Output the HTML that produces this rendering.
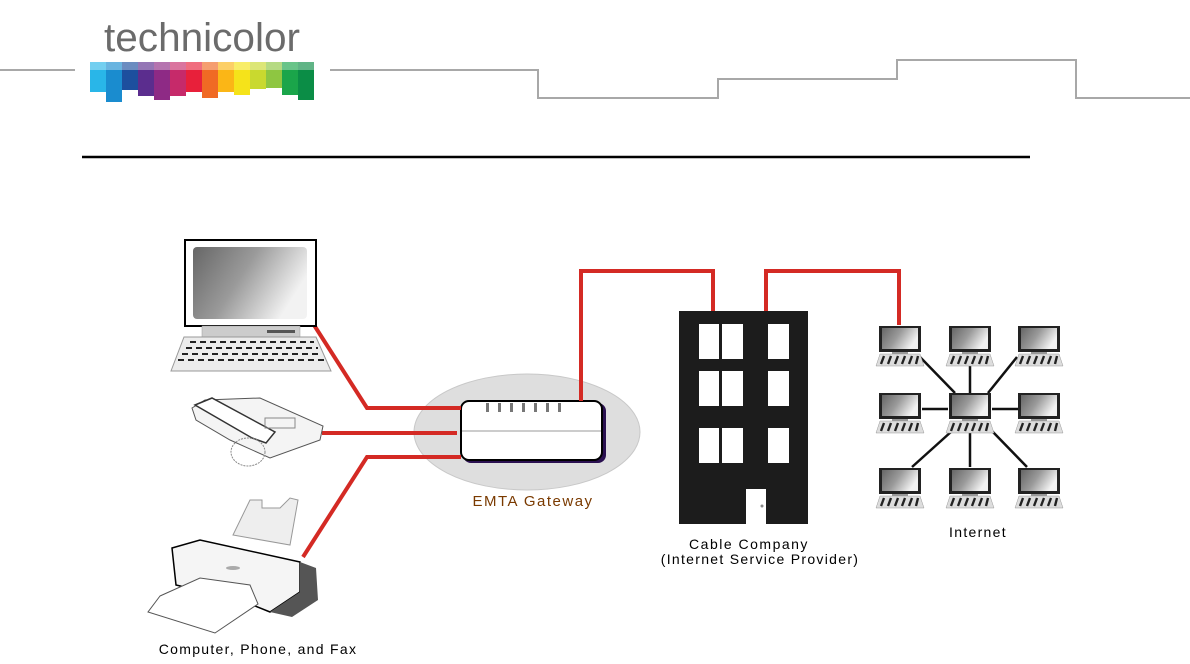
<!DOCTYPE html>
<html><head><meta charset="utf-8"><style>
html,body{margin:0;padding:0;background:#fff;width:1190px;height:664px;overflow:hidden}
svg{display:block}
text{font-family:"Liberation Sans",sans-serif}
</style></head><body>
<svg width="1190" height="664" viewBox="0 0 1190 664" xmlns="http://www.w3.org/2000/svg">
<defs>
<linearGradient id="scr" x1="0" y1="0" x2="1" y2="0.4">
<stop offset="0" stop-color="#666"/><stop offset="0.5" stop-color="#9a9a9a"/><stop offset="1" stop-color="#f2f2f2"/>
</linearGradient>
<g id="pc">
<rect x="1" y="1" width="42" height="26" fill="#222"/>
<rect x="4" y="3" width="36" height="21" fill="url(#scr)"/>
<rect x="14" y="27" width="16" height="2" fill="#999"/>
<polygon points="2,29 42,29 46,41 -2,41" fill="#ddd" stroke="#999" stroke-width="0.5"/>
<g stroke="#222" stroke-width="2.4">
<line x1="6" y1="31" x2="3" y2="39"/><line x1="13" y1="31" x2="10" y2="39"/><line x1="20" y1="31" x2="17" y2="39"/><line x1="27" y1="31" x2="24" y2="39"/><line x1="34" y1="31" x2="31" y2="39"/><line x1="40" y1="31" x2="38" y2="39"/>
</g>
</g>
</defs>

<!-- header lines -->
<polyline points="0,70 75,70" fill="none" stroke="#a8a8a8" stroke-width="2"/>
<polyline points="330,70 538,70 538,98 718,98 718,79 897,79 897,60 1076,60 1076,98 1190,98" fill="none" stroke="#a8a8a8" stroke-width="2"/>
<line x1="82" y1="157" x2="1030" y2="157" stroke="#000" stroke-width="2.5"/>

<!-- logo -->
<text x="104" y="51" font-size="40" fill="#6b6b6b" textLength="196" lengthAdjust="spacingAndGlyphs">technicolor</text>
<g>
<rect x="90" y="62" width="16" height="30" fill="#29b6e8"/>
<rect x="106" y="62" width="16" height="40" fill="#1a8ccf"/>
<rect x="122" y="62" width="16" height="28" fill="#1d4f9e"/>
<rect x="138" y="62" width="16" height="34" fill="#5b2d8e"/>
<rect x="154" y="62" width="16" height="38" fill="#8e2a85"/>
<rect x="170" y="62" width="16" height="34" fill="#c62a6a"/>
<rect x="186" y="62" width="16" height="30" fill="#e8203a"/>
<rect x="202" y="62" width="16" height="36" fill="#f06a24"/>
<rect x="218" y="62" width="16" height="30" fill="#fbb616"/>
<rect x="234" y="62" width="16" height="33" fill="#f5e31a"/>
<rect x="250" y="62" width="16" height="27" fill="#c9d92f"/>
<rect x="266" y="62" width="16" height="26" fill="#8ec641"/>
<rect x="282" y="62" width="16" height="33" fill="#1aa54a"/>
<rect x="298" y="62" width="16" height="38" fill="#0b8d46"/>
<rect x="90" y="62" width="224" height="8" fill="#fff" opacity="0.35"/>
</g>

<!-- gateway -->
<ellipse cx="527" cy="432" rx="113" ry="58" fill="#dedede" stroke="#c8c8c8"/>
<rect x="463" y="403" width="143" height="60" rx="8" fill="#2a1050"/>
<rect x="461" y="401" width="141" height="59" rx="8" fill="#fff" stroke="#000" stroke-width="2"/>
<line x1="462" y1="431" x2="601" y2="431" stroke="#999" stroke-width="1"/>
<g fill="#777"><rect x="486" y="403" width="3" height="9"/><rect x="498" y="403" width="3" height="9"/><rect x="510" y="403" width="3" height="9"/><rect x="522" y="403" width="3" height="9"/><rect x="534" y="403" width="3" height="9"/><rect x="546" y="403" width="3" height="9"/><rect x="558" y="403" width="3" height="9"/></g>
<text x="533" y="506" font-size="15" fill="#7a3a00" text-anchor="middle" letter-spacing="1.5">EMTA Gateway</text>

<!-- red lines -->
<g fill="none" stroke="#d42a24" stroke-width="4">
<polyline points="314,325 367,408 461,408"/>
<polyline points="322,433 457,433"/>
<polyline points="303,557 367,457 461,457"/>
<polyline points="581,401 581,271 713,271 713,311"/>
<polyline points="766,311 766,271 899,271 899,325"/>
</g>

<!-- laptop -->
<rect x="185" y="240" width="131" height="86" fill="#fff" stroke="#000" stroke-width="2"/>
<rect x="193" y="247" width="114" height="72" rx="4" fill="url(#scr)"/>
<rect x="202" y="326" width="98" height="11" fill="#ccc" stroke="#999" stroke-width="0.5"/>
<rect x="267" y="330" width="28" height="3" fill="#555"/>
<polygon points="184,337 316,337 331,371 171,371" fill="#ececec" stroke="#999"/>
<g stroke="#222" stroke-width="2" stroke-dasharray="6,4"><line x1="190" y1="342" x2="314" y2="342"/><line x1="186" y1="348" x2="318" y2="348"/><line x1="182" y1="354" x2="322" y2="354"/><line x1="178" y1="360" x2="326" y2="360"/></g>

<!-- phone -->
<polygon points="192,408 205,400 260,398 323,426 320,440 270,458 230,440 196,420" fill="#f4f4f4" stroke="#555"/>
<polygon points="195,405 212,398 275,432 266,443 252,438" fill="#fff" stroke="#333" stroke-width="1.5"/>
<g fill="none" stroke="#888" stroke-width="1"><rect x="265" y="418" width="30" height="10"/><ellipse cx="248" cy="452" rx="17" ry="14" stroke-dasharray="2,1"/></g>

<!-- printer -->
<polygon points="233,535 250,500 262,500 262,508 280,508 290,498 298,500 290,545" fill="#eee" stroke="#999"/>
<polygon points="172,548 200,540 300,562 300,592 270,612 240,600 176,585" fill="#f5f5f5" stroke="#000" stroke-width="1.5"/>
<polygon points="300,562 316,568 318,600 292,617 270,612 300,592" fill="#555"/>
<polygon points="160,596 200,578 250,585 258,604 215,633 148,612" fill="#fff" stroke="#555"/>
<ellipse cx="233" cy="568" rx="7" ry="2" fill="#aaa"/>
<text x="258" y="654" font-size="14" fill="#000" text-anchor="middle" letter-spacing="1.3">Computer, Phone, and Fax</text>

<!-- building -->
<rect x="679" y="311" width="129" height="213" fill="#1c1c1c"/>
<g fill="#fff">
<rect x="699" y="324" width="20" height="35"/><rect x="722" y="324" width="21" height="35"/><rect x="768" y="324" width="21" height="35"/>
<rect x="699" y="371" width="20" height="35"/><rect x="722" y="371" width="21" height="35"/><rect x="768" y="371" width="21" height="35"/>
<rect x="699" y="428" width="20" height="35"/><rect x="722" y="428" width="21" height="35"/><rect x="768" y="428" width="21" height="35"/>
<rect x="746" y="489" width="20" height="35"/>
</g>
<circle cx="762" cy="506" r="1.5" fill="#888"/>
<text x="749" y="549" font-size="14" text-anchor="middle" letter-spacing="1.5">Cable Company</text>
<text x="760" y="564" font-size="14" text-anchor="middle" letter-spacing="1.3">(Internet Service Provider)</text>

<!-- internet -->
<g stroke="#111" stroke-width="2.5">
<line x1="920" y1="357" x2="955" y2="393"/>
<line x1="970" y1="365" x2="970" y2="393"/>
<line x1="1017" y1="357" x2="988" y2="393"/>
<line x1="922" y1="409" x2="948" y2="409"/>
<line x1="992" y1="409" x2="1018" y2="409"/>
<line x1="952" y1="431" x2="912" y2="467"/>
<line x1="970" y1="431" x2="970" y2="467"/>
<line x1="992" y1="431" x2="1027" y2="467"/>
</g>
<use href="#pc" x="878" y="325"/><use href="#pc" x="948" y="325"/><use href="#pc" x="1017" y="325"/>
<use href="#pc" x="878" y="392"/><use href="#pc" x="948" y="392"/><use href="#pc" x="1017" y="392"/>
<use href="#pc" x="878" y="467"/><use href="#pc" x="948" y="467"/><use href="#pc" x="1017" y="467"/>
<text x="978" y="537" font-size="14" text-anchor="middle" letter-spacing="1.3">Internet</text>
</svg>
</body></html>
